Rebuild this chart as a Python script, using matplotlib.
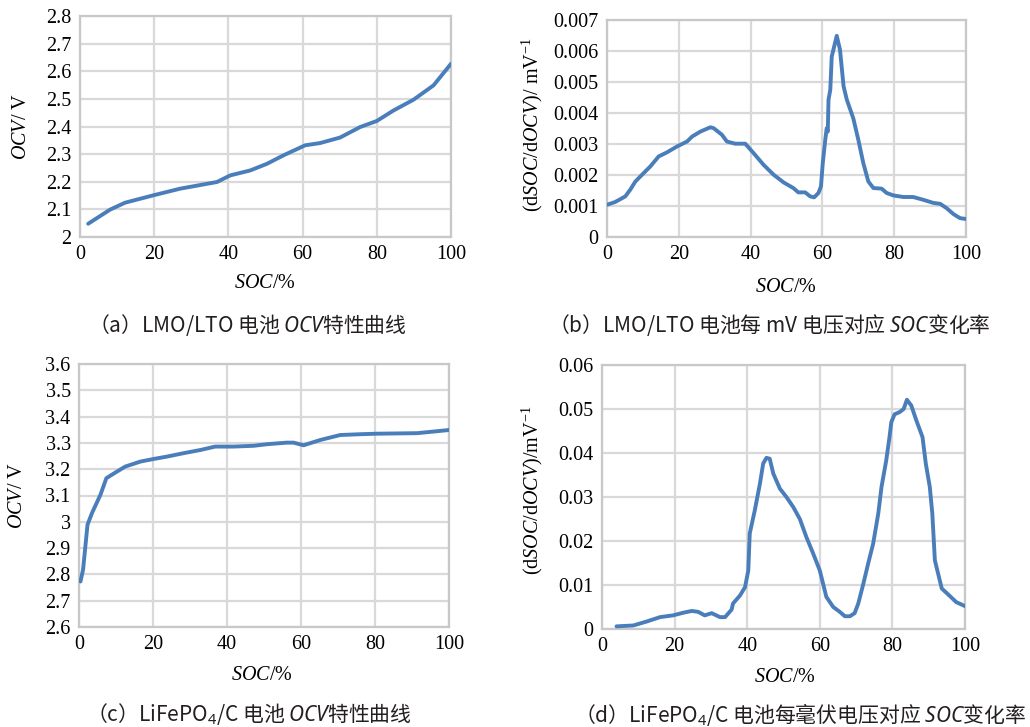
import matplotlib.pyplot as plt
from matplotlib.ticker import FuncFormatter, MultipleLocator

plt.rcParams['font.family'] = ['Liberation Serif', 'DejaVu Sans']
plt.rcParams['mathtext.fontset'] = 'custom'
plt.rcParams['mathtext.rm'] = 'Liberation Serif'
plt.rcParams['mathtext.it'] = 'Liberation Serif:italic'
plt.rcParams['mathtext.sf'] = 'Noto Sans:italic'
plt.rcParams['mathtext.bf'] = 'Noto Sans'

# (a) LMO/LTO OCV curve
soc_a = [2.2, 8.1, 12.1, 19.8, 27, 36.9, 40.5, 45.9, 50.4, 54.9, 60.7, 64.7,
         70.1, 75.5, 80, 84.5, 89.9, 95.3, 100]
ocv_a = [2.048, 2.099, 2.124, 2.151, 2.175, 2.199, 2.223, 2.241, 2.265, 2.296,
         2.332, 2.34, 2.36, 2.398, 2.42, 2.458, 2.497, 2.549, 2.627]

# (b) LMO/LTO dSOC/dOCV
soc_b = [0, 2.3, 5.1, 6.5, 7.9, 10.2, 12.1, 14.4, 16.7, 19.5, 22.3, 23.7, 26,
         28.8, 29.7, 32, 33.4, 35.7, 38.5, 40.8, 43.6, 46.4, 49.2, 51.9, 53.3,
         55.2, 56.6, 57.7, 58.9, 59.6, 60.1, 60.8, 61.2, 61.5, 61.7, 62.2, 62.6,
         64, 64.9, 65.9, 66.8, 68.6, 70, 71.4, 72.8, 74.2, 76.5, 77.9, 79.8,
         82.6, 85.3, 88.1, 90.9, 92.8, 94.6, 96.5, 98.3, 100]
rate_b = [0.00104, 0.00113, 0.00131, 0.00153, 0.00179, 0.00206, 0.00228,
          0.0026, 0.00273, 0.00292, 0.00308, 0.00324, 0.0034, 0.00354,
          0.00351, 0.0033, 0.00308, 0.00301, 0.00301, 0.00271, 0.00233,
          0.00201, 0.00176, 0.00158, 0.00144, 0.00144, 0.00131, 0.00128,
          0.00142, 0.00163, 0.00238, 0.00314, 0.00351, 0.0034, 0.00443,
          0.00475, 0.00582, 0.00649, 0.00604, 0.00486, 0.00443, 0.00383,
          0.00314, 0.00238, 0.00179, 0.00158, 0.00156, 0.00142, 0.00134,
          0.00129, 0.00129, 0.0012, 0.0011, 0.00107, 0.00093, 0.00074,
          0.00061, 0.00058]

# (c) LiFePO4/C OCV curve
soc_c = [0.4, 1.1, 2.3, 3.5, 5.8, 7.4, 9.8, 12.5, 16.6, 20.2, 23.8, 28.3,
         32.8, 36.8, 41.8, 47.2, 50.8, 56.2, 58, 60.7, 65.2, 70.6, 76, 80.5,
         91.4, 100]
ocv_c = [2.773, 2.818, 2.989, 3.033, 3.103, 3.166, 3.187, 3.21, 3.229, 3.239,
         3.248, 3.261, 3.273, 3.286, 3.286, 3.289, 3.295, 3.301, 3.301, 3.291,
         3.311, 3.33, 3.333, 3.335, 3.337, 3.349]

# (d) LiFePO4/C dSOC/dOCV
soc_d = [4, 8.6, 12.3, 16, 19.6, 22.4, 24.7, 26.5, 28.3, 30.2, 32.5, 33.9,
         35.7, 36.1, 38, 39.4, 40.3, 40.7, 42.1, 43.5, 44.4, 45.3, 46.2, 47.2,
         49, 50.8, 52.7, 54.5, 56.3, 58.2, 60, 61.8, 63.7, 65.5, 66.9, 68.3,
         69.6, 70.6, 72, 73.3, 74.7, 76.1, 77, 78.3, 79.2, 79.7, 80.6, 82,
         83.1, 84, 85.2, 86.6, 88.3, 89.2, 90.3, 91, 91.7, 93.6, 95.3, 97.6, 100]
rate_d = [0.0006, 0.0008, 0.0017, 0.0027, 0.0031, 0.0037, 0.0041, 0.0039,
          0.0031, 0.0036, 0.0027, 0.0027, 0.0044, 0.0058, 0.0076, 0.0095,
          0.0133, 0.0217, 0.027, 0.033, 0.0376, 0.0389, 0.0387, 0.0353,
          0.0319, 0.03, 0.0277, 0.025, 0.0209, 0.0171, 0.0133, 0.0073, 0.005,
          0.0039, 0.0029, 0.0029, 0.0036, 0.0058, 0.0103, 0.0148, 0.0194,
          0.0262, 0.0323, 0.0383, 0.0436, 0.047, 0.0488, 0.0493, 0.05, 0.0521,
          0.0508, 0.0474, 0.0436, 0.0376, 0.0323, 0.0262, 0.0156, 0.0092,
          0.0079, 0.0061, 0.0052]

W, H = 1030, 727
LINE = '#4a7ebb'


def px(x, y):
    return x / W, 1 - y / H


fig = plt.figure(figsize=(W / 100, H / 100), dpi=100)

panels = [
    # left, top, right, bottom (pixels), data, ylim, ystep
    ((80, 16, 451, 237), soc_a, ocv_a, (2.0, 2.8), 0.1),
    ((607, 20, 966, 237), soc_b, rate_b, (0, 0.007), 0.001),
    ((79, 364, 449, 627), soc_c, ocv_c, (2.6, 3.6), 0.1),
    ((602, 365, 965, 629), soc_d, rate_d, (0, 0.06), 0.01),
]

axes = []
for (l, t, r, b), xs, ys, ylim, ystep in panels:
    ax = fig.add_axes([l / W, 1 - b / H, (r - l) / W, (b - t) / H])
    ax.plot(xs, ys, color=LINE, lw=2.8, solid_capstyle='round',
            solid_joinstyle='round', zorder=3)
    ax.set_xlim(0, 100)
    ax.set_ylim(*ylim)
    ax.xaxis.set_major_locator(MultipleLocator(20))
    ax.yaxis.set_major_locator(MultipleLocator(ystep))
    ax.yaxis.set_major_formatter(
        FuncFormatter(lambda v, p: f'{round(v, 4):g}'))
    ax.grid(True, color='#d9d9d9', lw=1.6)
    ax.set_axisbelow(True)
    for s in ax.spines.values():
        s.set_color('#c8c8c8')
        s.set_linewidth(1.6)
    ax.tick_params(length=0, labelsize=14.5, pad=6)
    axes.append(ax)

# axis labels
lab = dict(fontsize=14.5, ha='center', va='center')
fig.text(*px(265, 283), r'$\mathit{SOC}$/%', **lab)
fig.text(*px(786, 287), r'$\mathit{SOC}$/%', **lab)
fig.text(*px(262, 675), r'$\mathit{SOC}$/%', **lab)
fig.text(*px(785, 677), r'$\mathit{SOC}$/%', **lab)
fig.text(*px(22, 126), r'$\mathit{OCV}$/ V', rotation=90, **lab)
fig.text(*px(532, 125), r'(d$\mathit{SOC}$/d$\mathit{OCV}$)/ mV$^{-1}$',
         rotation=90, **lab)
fig.text(*px(18, 495), r'$\mathit{OCV}$/ V', rotation=90, **lab)
fig.text(*px(532, 490), r'(d$\mathit{SOC}$/d$\mathit{OCV}$)/mV$^{-1}$',
         rotation=90, **lab)

# captions
cap = dict(fontsize=15, ha='center', va='center', color='#231f20',
           family=['Noto Sans CJK SC', 'DejaVu Sans'])
fig.text(*px(247, 325), r'（a）LMO/LTO 电池 $\mathsf{OCV}$特性曲线', **cap)
fig.text(*px(769, 325), r'（b）LMO/LTO 电池每 mV 电压对应 $\mathsf{SOC}$变化率', **cap)
fig.text(*px(249, 714), r'（c）LiFePO$_\mathbf{4}$/C 电池 $\mathsf{OCV}$特性曲线', **cap)
fig.text(*px(800, 714),
         r'（d）LiFePO$_\mathbf{4}$/C 电池每毫伏电压对应 $\mathsf{SOC}$变化率', **cap)

fig.savefig('out.png', dpi=100)
